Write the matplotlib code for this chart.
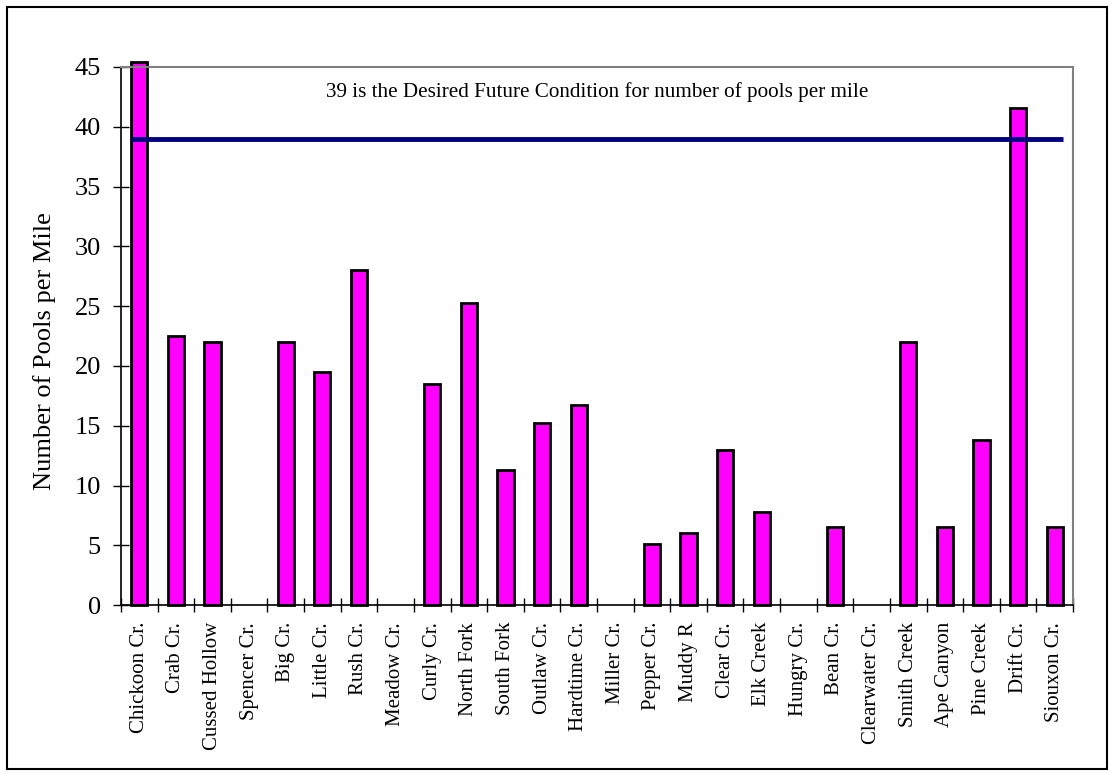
import numpy as np
import matplotlib
matplotlib.use('Agg')
import matplotlib.pyplot as plt
from matplotlib.patches import Rectangle

# Pools per mile, by stream
streams = ['Chickoon Cr.', 'Crab Cr.', 'Cussed Hollow', 'Spencer Cr.', 'Big Cr.',
           'Little Cr.', 'Rush Cr.', 'Meadow Cr.', 'Curly Cr.', 'North Fork',
           'South Fork', 'Outlaw Cr.', 'Hardtime Cr.', 'Miller Cr.', 'Pepper Cr.',
           'Muddy R', 'Clear Cr.', 'Elk Creek', 'Hungry Cr.', 'Bean Cr.',
           'Clearwater Cr.', 'Smith Creek', 'Ape Canyon', 'Pine Creek', 'Drift Cr.',
           'Siouxon Cr.']
pools = [45.4, 22.5, 22.0, 0, 22.0,
         19.5, 28.0, 0, 18.5, 25.3,
         11.3, 15.2, 16.75, 0, 5.1,
         6.0, 13.0, 7.8, 0, 6.5,
         0, 22.0, 6.5, 13.8, 41.6,
         6.5]
dfc = 39  # desired future condition
y_ticks = [0, 5, 10, 15, 20, 25, 30, 35, 40, 45]

plt.rcParams['font.family'] = ['Liberation Serif', 'DejaVu Serif']

fig = plt.figure(figsize=(11.14, 7.74), dpi=100)
ax = fig.add_axes([0.1086, 0.218, 0.8546, 0.6956])

x = np.arange(len(streams))
bw = 0.44
bars = ax.bar(x, pools, width=bw, color='#ff00ff', edgecolor='black', linewidth=2, zorder=2)
for b, v in zip(bars, pools):
    b.set_clip_on(False)
    if v == 0:
        b.set_visible(False)  # no pools surveyed -> nothing drawn

# target line across the bars
ax.plot([x[0] - bw / 2, x[-1] + bw / 2], [dfc, dfc], color='#000080', lw=3.5,
        solid_capstyle='butt', zorder=3)
ax.text((len(streams) - 1) / 2, 42.9,
        '%d is the Desired Future Condition for number of pools per mile' % dfc,
        ha='center', va='center', fontsize=15.2)

ax.set_xlim(-0.5, len(streams) - 0.5)
ax.set_ylim(0, 45)
ax.set_yticks(y_ticks)
ax.tick_params(axis='y', direction='inout', length=11, width=1, labelsize=19, pad=9)

ax.set_xticks(x)
ax.set_xticklabels(streams, rotation=90, fontsize=15)
ax.tick_params(axis='x', which='major', length=0, pad=12)
ax.set_xticks(np.arange(len(streams) + 1) - 0.5, minor=True)
ax.tick_params(axis='x', which='minor', direction='inout', length=10, width=1)

ax.set_ylabel('Number of Pools per Mile', fontsize=19)
ax.yaxis.set_label_coords(-0.068, 0.473)

for side in ['top', 'right']:
    ax.spines[side].set_color('#808080')
    ax.spines[side].set_linewidth(1.5)
for side in ['left', 'bottom']:
    ax.spines[side].set_color('black')
    ax.spines[side].set_linewidth(1.2)

# outer frame
fig.patches.append(Rectangle((0.006, 0.006), 0.988, 0.985, transform=fig.transFigure,
                             fill=False, edgecolor='black', lw=1.5))

fig.savefig('out.png', dpi=100)
